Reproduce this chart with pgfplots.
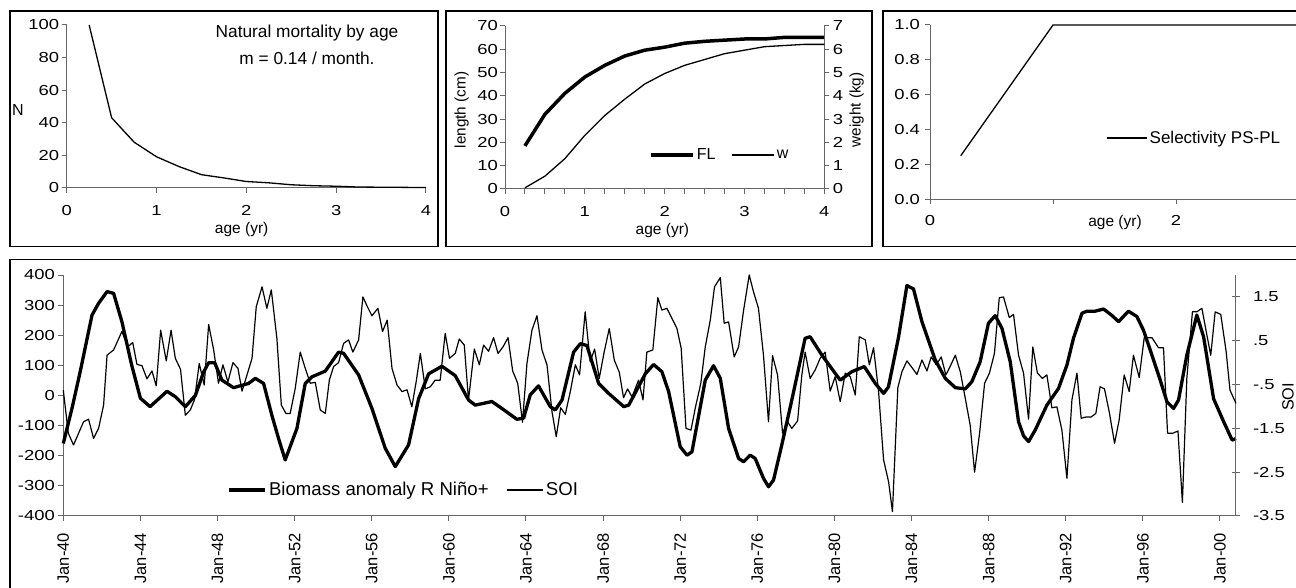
\documentclass[border=0pt]{standalone}
\usepackage{fontspec}
\setmainfont{Liberation Sans}[FakeStretch=1.27]
\newfontfamily\plainfont{Liberation Sans}
\usepackage{pgfplots}
\pgfplotsset{compat=1.18}

\pgfplotsset{
  every axis/.append style={
    scale only axis,
    font=\fontsize{14.5}{17}\selectfont,
    /pgf/number format/assume math mode=true,
    axis line style={black!60, line width=1pt},
    every tick/.style={black!60, line width=1pt},
    major tick length=5pt, minor tick length=5pt,
    tick align=outside,
    axis x line*=bottom,
    clip=false,
  },
}

\begin{document}
\fontsize{14.5}{17}\selectfont
\begin{tikzpicture}[x=1pt,y=1pt]
\path[use as bounding box] (0pt,0pt) rectangle (1296pt,588pt);
\clip (0pt,0pt) rectangle (1296pt,588pt);

% panel frames
\draw[line width=1.3pt] (10pt,341.3pt) rectangle (438pt,577pt);
\draw[line width=1.3pt] (446pt,341.3pt) rectangle (872pt,577pt);
\draw[line width=1.3pt] (883pt,341.3pt) rectangle (1310pt,577pt);
\draw[line width=1.3pt] (10pt,-20pt) rectangle (1310pt,328.7pt);

% ---------- Panel 1: natural mortality ----------
\begin{axis}[at={(66.7pt,400.3pt)}, anchor=south west, width=359.3pt, height=162.7pt,
  xmin=0, xmax=4, ymin=0, ymax=100, axis y line*=left,
  xtick={0,1,2,3,4}, ytick={0,20,...,100},
  xticklabel style={yshift=-8pt}, yticklabel style={xshift=2.5pt},
  xlabel={age (yr)}, xlabel style={at={(axis description cs:0.487,0)}, anchor=center, yshift=-42pt, font=\plainfont\fontsize{15.5}{17}\selectfont},
  ylabel={N}, ylabel style={at={(axis description cs:-0.1355,0.478)}, anchor=center, rotate=-90, font=\plainfont\fontsize{16}{18}\selectfont},
]
\addplot[black, line width=1.3pt, line join=round] coordinates {
(0.25,100) (0.5,43) (0.75,28) (1,19) (1.25,13) (1.5,8) (1.75,6) (2,3.8)
(2.25,3) (2.5,1.8) (2.75,1.2) (3,0.9) (3.25,0.4) (3.5,0.3) (3.75,0.2) (4,0.1)};
\end{axis}
\node[align=center, font=\plainfont\fontsize{17.3}{26.6}\selectfont] at (307pt,543pt) {Natural mortality by age\\m = 0.14 / month.};

% ---------- Panel 2: growth ----------
\begin{axis}[at={(505pt,399pt)}, anchor=south west, width=319.3pt, height=163.3pt,
  xmin=0, xmax=4, ymin=0, ymax=70, axis y line*=left,
  xtick={0,1,2,3,4}, minor x tick num=3, ytick={0,10,...,70},
  xticklabel style={yshift=-7pt}, yticklabel style={xshift=3pt},
  xlabel={age (yr)}, xlabel style={at={(axis description cs:0.493,0)}, anchor=center, yshift=-41pt, font=\plainfont\fontsize{15.5}{17}\selectfont},
  ylabel={length (cm)}, ylabel style={at={(axis description cs:-0.1356,0.484)}, anchor=center, font=\plainfont\fontsize{15.3}{17}\selectfont},
]
\addplot[black, line width=3.5pt, line join=round] coordinates {
(0.25,18.5) (0.5,32) (0.75,41) (1,48) (1.25,53) (1.5,57) (1.75,59.5) (2,60.8)
(2.25,62.5) (2.5,63.3) (2.75,63.8) (3,64.3) (3.25,64.3) (3.5,65) (3.75,65) (4,65)};
\end{axis}
\begin{axis}[at={(505pt,399pt)}, anchor=south west, width=319.3pt, height=163.3pt,
  xmin=0, xmax=4, ymin=0, ymax=7, axis y line*=right, axis x line=none,
  ytick={0,1,...,7}, yticklabel style={xshift=-1.5pt},
  ylabel={weight (kg)}, ylabel style={at={(axis description cs:1.1015,0.484)}, anchor=center, font=\plainfont\fontsize{15.3}{17}\selectfont},
  legend columns=2,
  legend style={at={(0.442,0.208)}, anchor=west, draw=none, fill=none, font=\plainfont\fontsize{16}{18}\selectfont,
    /tikz/every even column/.append style={column sep=14pt}},
  legend image code/.code={\draw[#1] (0pt,0pt) -- (42pt,0pt);},
]
\addlegendimage{black, line width=3.5pt}
\addlegendentry{FL}
\addplot[black, line width=1.3pt, line join=round] coordinates {
(0.25,0.05) (0.5,0.55) (0.75,1.3) (1,2.3) (1.25,3.15) (1.5,3.85) (1.75,4.5) (2,4.95)
(2.25,5.3) (2.5,5.55) (2.75,5.8) (3,5.95) (3.25,6.1) (3.5,6.15) (3.75,6.2) (4,6.2)};
\addlegendentry{w}
\end{axis}

% ---------- Panel 3: selectivity ----------
\begin{axis}[at={(930pt,388.7pt)}, anchor=south west, width=492pt, height=174.3pt,
  xmin=0, xmax=4, ymin=0, ymax=1, axis y line*=left,
  xtick={0,1,2,3,4}, xticklabels={0,,2,,}, ytick={0,0.2,...,1.0},
  yticklabel style={/pgf/number format/.cd, fixed, fixed zerofill, precision=1},
  xticklabel style={yshift=-6pt},
  xlabel={age (yr)}, xlabel style={at={(axis description cs:0.376,0)}, anchor=center, yshift=-22.7pt, font=\plainfont\fontsize{15.5}{17}\selectfont},
  legend style={at={(0.352,0.352)}, anchor=west, draw=none, fill=none, font=\plainfont\fontsize{17}{19}\selectfont},
  legend image code/.code={\draw[#1] (0pt,0pt) -- (40pt,0pt);},
]
\addplot[black, line width=1.3pt, line join=round] coordinates {
(0.25,0.25) (0.5,0.5) (0.75,0.75) (1,1) (1.5,1) (2,1) (2.5,1) (3,1) (3.5,1) (4,1)};
\addlegendentry{Selectivity PS-PL}
\end{axis}

% ---------- Bottom panel ----------
\begin{axis}[at={(63.3pt,72pt)}, anchor=south west, width=1172.7pt, height=241pt,
  xmin=1940, xmax=2000.83, ymin=-400, ymax=400, axis y line*=left,
  xtick={1940,1944,...,2000}, minor x tick num=3,
  xticklabels={Jan-40,Jan-44,Jan-48,Jan-52,Jan-56,Jan-60,Jan-64,Jan-68,Jan-72,Jan-76,Jan-80,Jan-84,Jan-88,Jan-92,Jan-96,Jan-00},
  xticklabel style={rotate=90, anchor=east, yshift=0pt, xshift=-7pt, font=\plainfont\fontsize{16.5}{18}\selectfont},
  ytick={-400,-300,...,400}, yticklabel style={xshift=1.5pt},
  legend columns=2,
  legend style={at={(0.1375,0.108)}, anchor=west, draw=none, fill=none, font=\plainfont\fontsize{18.6}{20}\selectfont,
    /tikz/every even column/.append style={column sep=16pt}},
  legend image code/.code={\draw[#1] (0pt,0pt) -- (36pt,0pt);},
]
\addplot[black, line width=3.3pt, line join=round] coordinates {
(1940.00,-159) (1940.45,-43) (1940.88,80) (1941.31,212) (1941.49,267) (1941.83,306)
(1942.27,345) (1942.61,339) (1943.04,245) (1943.55,100) (1944.0,-9) (1944.5,-37)
(1945.38,14) (1945.81,-4) (1946.33,-37) (1946.85,0) (1947.28,78) (1947.54,109)
(1947.85,109) (1948.23,51) (1948.83,26) (1949.61,40) (1949.96,57) (1950.39,40)
(1950.82,-66) (1951.2,-150) (1951.51,-214) (1952.12,-109) (1952.55,40) (1952.9,62)
(1953.59,81) (1954.28,144) (1954.54,140) (1955.32,68) (1956.01,-43) (1956.7,-175)
(1957.22,-236) (1957.91,-164) (1958.43,-11) (1958.95,72) (1959.64,97) (1960.33,66)
(1961.02,-15) (1961.37,-32) (1962.23,-20) (1962.75,-43) (1963.53,-79) (1963.88,-75)
(1964.22,2) (1964.65,32) (1965.26,-37) (1965.52,-48) (1965.87,-15) (1966.47,144)
(1966.82,172) (1967.16,166) (1967.77,40) (1968.29,7) (1969.07,-37) (1969.33,-32)
(1970.19,72) (1970.62,103) (1971.05,79) (1971.4,13) (1972.0,-170) (1972.35,-198)
(1972.61,-187) (1973.3,51) (1973.73,99) (1974.08,57) (1974.51,-109) (1975.03,-209)
(1975.29,-220) (1975.63,-198) (1975.89,-209) (1976.32,-275) (1976.58,-303) (1976.84,-281)
(1977.27,-164) (1977.79,-15) (1978.48,190) (1978.74,195) (1979.35,134) (1980.3,51)
(1980.9,79) (1981.55,96) (1982.12,40) (1982.55,7) (1982.8,28) (1983.33,195)
(1983.76,365) (1984.1,354) (1984.54,245) (1985.23,118) (1985.75,57) (1986.27,26)
(1986.79,22) (1987.13,46) (1987.56,112) (1987.99,240) (1988.34,265) (1988.69,223)
(1989.12,112) (1989.55,-87) (1989.81,-134) (1990.07,-153) (1990.42,-114) (1991.02,-32)
(1991.62,23) (1992.06,101) (1992.4,190) (1992.84,273) (1993.1,280) (1993.53,280)
(1993.96,287) (1994.39,266) (1994.74,245) (1995.25,280) (1995.69,262) (1996.03,217)
(1996.38,151) (1996.9,51) (1997.25,-21) (1997.59,-43) (1997.85,-15) (1998.28,134)
(1998.8,267) (1999.15,195) (1999.67,-11) (2000.19,-87) (2000.63,-148) (2000.83,-143)};
\addlegendentry{Biomass anomaly R Niño+}
\addlegendimage{black, line width=1.2pt}
\addlegendentry{SOI}
\end{axis}
\begin{axis}[at={(63.3pt,72pt)}, anchor=south west, width=1172.7pt, height=241pt,
  xmin=1940, xmax=2000.83, ymin=-3.5, ymax=2, axis y line*=right, axis x line=none,
  tick align=center, major tick length=8pt,
  ytick={-3.5,-2.5,-1.5,-0.5,0.5,1.5}, yticklabels={-3.5,-2.5,-1.5,-.5,.5,1.5},
  yticklabel style={xshift=8pt},
  ylabel={SOI}, ylabel style={at={(axis description cs:1.0444,0.494)}, anchor=center, font=\plainfont\fontsize{16.3}{18}\selectfont},
]
\addplot[black, line width=1.2pt, line join=round] coordinates {
(1940.00,-0.63) (1940.26,-1.61) (1940.53,-1.88) (1941.05,-1.35) (1941.31,-1.29) (1941.57,-1.73)
(1941.83,-1.50) (1942.09,-0.97) (1942.27,0.17) (1942.61,0.29) (1943.04,0.71) (1943.35,0.36)
(1943.60,0.46) (1943.82,-0.04) (1944.08,-0.07) (1944.34,-0.37) (1944.60,-0.19) (1944.82,-0.53)
(1945.05,0.74) (1945.34,0.04) (1945.59,0.74) (1945.81,0.10) (1946.08,-0.15) (1946.33,-1.20)
(1946.59,-1.08) (1946.81,-0.84) (1947.05,-0.02) (1947.31,-0.51) (1947.54,0.87) (1947.80,0.29)
(1948.05,-0.47) (1948.28,-0.05) (1948.54,-0.44) (1948.80,0.00) (1949.06,-0.13) (1949.27,-0.65)
(1949.53,-0.28) (1949.79,0.10) (1950.01,1.28) (1950.31,1.73) (1950.56,1.24) (1950.79,1.66)
(1951.08,0.55) (1951.31,-0.97) (1951.55,-1.16) (1951.77,-1.16) (1952.03,-0.59) (1952.29,0.24)
(1952.55,-0.13) (1952.81,-0.47) (1953.07,-0.45) (1953.33,-1.08) (1953.59,-1.16) (1953.80,-0.40)
(1954.02,-0.09) (1954.28,0.00) (1954.54,0.44) (1954.80,0.52) (1955.02,0.24) (1955.32,0.52)
(1955.54,1.50) (1955.77,1.28) (1956.01,1.07) (1956.32,1.24) (1956.56,0.71) (1956.80,0.97)
(1957.05,-0.13) (1957.31,-0.51) (1957.57,-0.66) (1957.83,-0.62) (1958.08,-1.01) (1958.31,-0.42)
(1958.52,0.21) (1958.78,-0.60) (1959.04,-0.55) (1959.29,-0.40) (1959.55,-0.40) (1959.81,0.67)
(1960.03,0.10) (1960.33,0.21) (1960.54,0.54) (1960.80,0.40) (1961.02,-0.85) (1961.32,0.31)
(1961.58,-0.05) (1961.80,0.40) (1962.06,0.26) (1962.32,0.57) (1962.55,0.21) (1962.81,0.36)
(1963.07,0.57) (1963.31,-0.19) (1963.57,-0.47) (1963.82,-1.36) (1964.05,-0.02) (1964.31,0.74)
(1964.57,1.07) (1964.83,0.29) (1965.09,-0.05) (1965.35,-1.12) (1965.57,-1.69) (1965.80,-1.03)
(1966.04,-1.18) (1966.30,-0.66) (1966.56,-0.05) (1966.78,-0.28) (1967.07,1.16) (1967.33,0.02)
(1967.56,0.31) (1967.80,-0.36) (1968.06,0.25) (1968.32,0.78) (1968.58,0.06) (1968.84,-0.22)
(1969.06,-0.80) (1969.27,-0.60) (1969.50,-0.78) (1969.84,-0.40) (1970.07,-0.85) (1970.27,0.24)
(1970.58,0.29) (1970.84,1.48) (1971.05,1.20) (1971.31,1.24) (1971.57,1.01) (1971.83,0.78)
(1972.05,0.33) (1972.30,-1.50) (1972.56,-1.54) (1972.78,-1.04) (1973.07,-0.47) (1973.30,0.36)
(1973.56,0.97) (1973.78,1.73) (1974.08,1.94) (1974.28,0.90) (1974.51,0.93) (1974.80,0.13)
(1975.03,0.36) (1975.29,1.20) (1975.58,2.00) (1975.80,1.62) (1976.06,1.24) (1976.32,0.17)
(1976.58,-1.35) (1976.79,0.16) (1977.05,-0.28) (1977.31,-1.61) (1977.57,-1.35) (1977.79,-1.50)
(1978.09,-1.33) (1978.31,-0.28) (1978.48,0.24) (1978.74,-0.36) (1979.00,-0.17) (1979.26,0.10)
(1979.52,0.24) (1979.78,-0.65) (1980.04,-0.32) (1980.30,-0.89) (1980.56,-0.24) (1980.82,-0.32)
(1981.08,-0.74) (1981.29,0.59) (1981.60,0.52) (1981.81,-0.05) (1982.03,0.34) (1982.29,-0.66)
(1982.55,-2.22) (1982.81,-2.72) (1983.01,-3.40) (1983.29,-0.57) (1983.50,-0.21) (1983.76,0.04)
(1984.02,-0.11) (1984.28,-0.27) (1984.54,0.06) (1984.80,-0.19) (1985.02,0.13) (1985.28,-0.05)
(1985.54,0.13) (1985.78,-0.28) (1986.00,-0.09) (1986.27,0.17) (1986.53,-0.21) (1986.79,-0.82)
(1987.04,-1.42) (1987.27,-2.50) (1987.53,-1.61) (1987.79,-0.47) (1988.04,-0.24) (1988.30,0.21)
(1988.55,1.48) (1988.77,1.50) (1989.07,1.03) (1989.29,1.10) (1989.55,0.17) (1989.81,-0.24)
(1990.07,-1.29) (1990.29,0.36) (1990.53,-0.24) (1990.79,-0.36) (1991.02,-0.28) (1991.28,-1.03)
(1991.54,-1.01) (1991.80,-1.54) (1992.06,-2.64) (1992.32,-0.85) (1992.58,-0.24) (1992.80,-1.27)
(1993.06,-1.24) (1993.32,-1.24) (1993.56,-1.16) (1993.78,-0.55) (1994.01,-0.60) (1994.27,-1.16)
(1994.53,-1.84) (1994.77,-1.31) (1995.03,-0.28) (1995.29,-0.66) (1995.51,0.17) (1995.81,-0.34)
(1996.07,0.57) (1996.47,0.57) (1996.81,0.34) (1997.07,0.34) (1997.28,-1.61) (1997.56,-1.61)
(1997.82,-1.56) (1998.05,-3.19) (1998.28,-0.36) (1998.57,1.16) (1998.80,1.16) (1999.06,1.24)
(1999.32,0.63) (1999.52,0.17) (1999.75,1.16) (2000.04,1.10) (2000.32,0.25) (2000.52,-0.63)
(2000.83,-0.93)};
\end{axis}
\end{tikzpicture}
\end{document}
